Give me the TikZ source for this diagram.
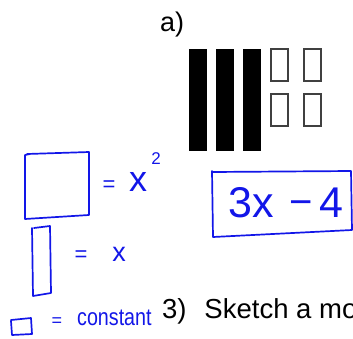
\documentclass[tikz,border=0pt]{standalone}
\usepackage{fontspec}
\setmainfont{Liberation Sans}
\usepackage{tikz}
\usetikzlibrary{positioning}
\definecolor{pen}{RGB}{18,22,232}

\begin{document}
\begin{tikzpicture}[x=1pt,y=-1pt,
  bar/.style={fill=black,draw=none},
  tile/.style={draw=black!75,line width=1.4pt,fill=white},
  ink/.style={draw=pen,line width=1.7pt,line join=round,line cap=round},
  hand/.style={text=pen,inner sep=0pt},
  label/.style={text=black,inner sep=0pt,anchor=base west}]
\useasboundingbox (0,0) rectangle (353,338);
% printed part
\node[label,font=\fontsize{27}{30}\selectfont] (parta) at (160,31) {a)};
\foreach \x in {189,216,243} \fill[bar] (\x,49) rectangle ++(18,102);
\foreach \x in {271,304} \foreach \y in {49,94} \draw[tile] (\x,\y) rectangle ++(17,32);
\node[label,font=\fontsize{27.5}{30}\selectfont] (q3) at (162,318) {3)\hspace{0.65em}Sketch a mo};
% handwritten legend
\draw[ink] (27,154) -- (89,152) -- (89,215) -- (25,219) -- (25,155) -- (30,154);
\node[hand,font=\fontsize{22}{24}\selectfont] (eqa) at (109,186) {=};
\node[hand,font=\fontsize{36}{40}\selectfont] (xa) at (138,182) {x};
\node[hand,font=\fontsize{17}{20}\selectfont] (sq) at (156,159) {2};
\draw[ink] (34,228) -- (50,226) -- (51,293) -- (33,296) -- (32,228);
\node[hand,font=\fontsize{22}{24}\selectfont] (eqb) at (81,256) {=};
\node[hand,font=\fontsize{27}{30}\selectfont] (xb) at (119,254) {x};
\draw[ink] (11,320) -- (31,318) -- (32,334) -- (12,335) -- (11,321);
\node[hand,font=\fontsize{18}{20}\selectfont] (eqc) at (57,322) {=};
\node[hand,font=\fontsize{24}{26}\selectfont,anchor=base west] (cst) at (77,325) {\scalebox{0.82}[1]{constant}};
% boxed expression
\draw[ink] (212,172) -- (351,171) -- (352,230) -- (213,237) -- (212,171);
\node[hand,font=\fontsize{43}{46}\selectfont] (tx) at (251,203) {3x};
\node[hand,font=\fontsize{40}{42}\selectfont] (mn) at (301,208) {−};
\node[hand,font=\fontsize{43}{46}\selectfont] (fr) at (331,203) {4};
\end{tikzpicture}
\end{document}
